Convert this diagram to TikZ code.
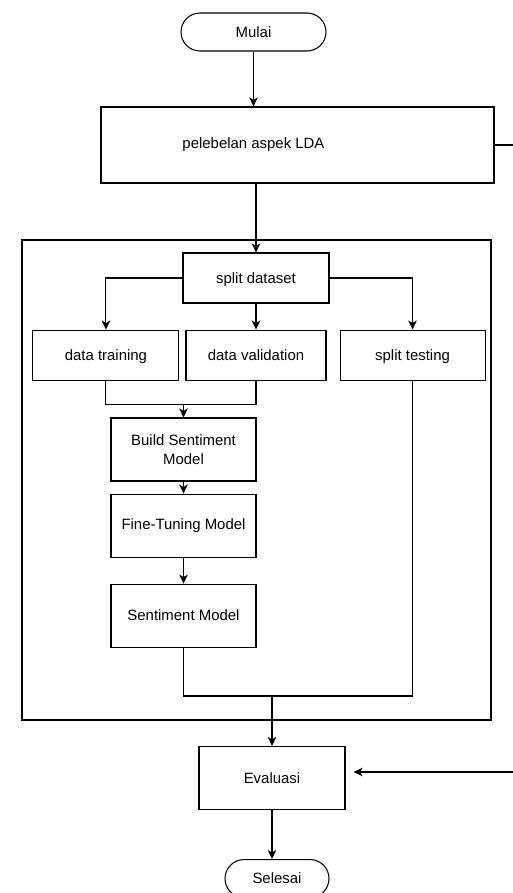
\documentclass[tikz,border=0pt]{standalone}
\usepackage{fontspec}
\setmainfont{Liberation Sans}
\usepackage{tikz}
\usetikzlibrary{arrows.meta, positioning, calc}

\begin{document}
\begin{tikzpicture}[
    every node/.style={font=\fontsize{8.5}{10.8}\selectfont},
    line width=0.6pt,
    terminal/.style={rectangle, draw, rounded corners=0.38cm, minimum height=0.76cm, align=center},
    stepbox/.style={rectangle, draw, minimum width=2.9cm, minimum height=1cm, align=center, text height=1.6ex, text depth=0.45ex},
    modelbox/.style={rectangle, draw, minimum width=2.9cm, minimum height=1.26cm, align=center},
    groupbox/.style={rectangle, draw, minimum width=9.38cm, minimum height=9.6cm},
    arrow/.style={-{Stealth[length=1.8mm, width=1.7mm, inset=0.5mm]}}
]
\useasboundingbox (0,0) rectangle (10.24,-17.86);
\node[terminal, minimum width=2.9cm] (mulai) at (5.07,-0.64) {Mulai};
\node[rectangle, draw, minimum width=7.86cm, minimum height=1.52cm,
      label={[xshift=-0.88cm]center:pelebelan aspek LDA}] (lda) at (5.95,-2.9) {};
\node[groupbox] (group) at (5.13,-9.6) {};
\node[stepbox, minimum width=2.92cm] (split) at (5.12,-5.56) {split dataset};
\node[stepbox, minimum width=2.8cm, below=0.52cm of split] (valid) {data validation};
\node[stepbox, minimum width=2.92cm, left=0.12cm of valid] (train) {data training};
\node[stepbox, right=0.26cm of valid] (stest) {split testing};
\node[modelbox] (build) at (3.67,-8.99) {Build Sentiment\\Model};
\node[modelbox, below=0.24cm of build] (fine) {Fine-Tuning Model};
\node[modelbox, below=0.52cm of fine] (sent) {Sentiment Model};
\node[modelbox, minimum width=2.92cm] (eval) at (5.44,-15.56) {Evaluasi};
\node[terminal, minimum width=2.08cm, below=0.98cm of eval, xshift=0.1cm] (selesai) {Selesai};
% join points and the side line
\coordinate[above=0.26cm of build.north] (joinA);
\coordinate[above=1cm of eval.north] (joinB);
\coordinate (rail) at ($(lda.east)+(0.4,0)$);
\draw[arrow] (mulai) -- (mulai |- lda.north);
\draw[arrow] (split |- lda.south) -- (split.north);
\draw[arrow] (split.west) -| (train.north);
\draw[arrow] (split) -- (valid);
\draw[arrow] (split.east) -| (stest.north);
\draw (train.south) |- (joinA) -| (valid.south);
\draw[arrow] (joinA) -- (build.north);
\draw[arrow] (build) -- (fine);
\draw[arrow] (fine) -- (sent);
\draw (sent.south) |- (joinB) -| (stest.south);
\draw[arrow] (joinB) -- (eval.north);
\draw[arrow] (eval) -- (eval |- selesai.north);
\draw[arrow, shorten >=0.16cm] (lda.east) -- (rail) |- ([yshift=0.12cm]eval.east);
\end{tikzpicture}
\end{document}
